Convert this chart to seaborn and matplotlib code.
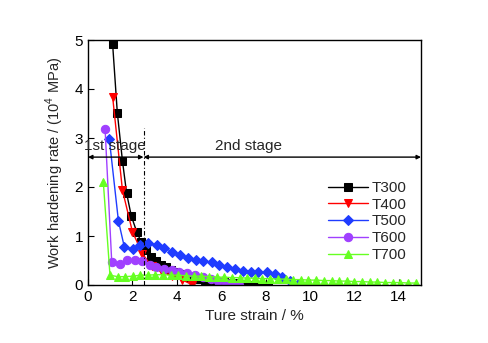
import matplotlib
matplotlib.use("Agg")
import matplotlib.pyplot as plt
import seaborn as sns
import pandas as pd

# ---- data ----
t300_x = [1.11, 1.32, 1.55, 1.74, 1.95, 2.19, 2.40, 2.61, 2.84, 3.06, 3.28, 3.50, 3.72, 3.94, 4.16,
          4.38, 4.60, 4.82, 5.04, 5.26, 5.48, 5.70, 5.92, 6.14, 6.36, 6.58, 6.80, 7.02, 7.24, 7.46,
          7.68, 7.90, 8.10]
t300_y = [4.91, 3.52, 2.54, 1.87, 1.41, 1.09, 0.87, 0.71, 0.58, 0.48, 0.41, 0.36, 0.31, 0.27, 0.23,
          0.20, 0.17, 0.15, 0.13, 0.11, 0.09, 0.08, 0.07, 0.06, 0.05, 0.04, 0.03, 0.02, 0.01, 0.01,
          0.0, 0.0, 0.0]

t400_x = [1.11, 1.55, 2.00, 2.45, 2.87, 3.32, 3.77, 4.22, 4.67]
t400_y = [3.84, 1.94, 1.09, 0.64, 0.38, 0.27, 0.19, 0.11, 0.01]

t500_x = [0.96, 1.37, 1.64, 2.01, 2.34, 2.72, 3.09, 3.42, 3.80, 4.14, 4.49, 4.86, 5.19, 5.57, 5.91,
          6.25, 6.62, 6.97, 7.34, 7.67, 8.05, 8.42, 8.76, 9.10, 9.47]
t500_y = [2.98, 1.31, 0.77, 0.73, 0.81, 0.86, 0.82, 0.76, 0.68, 0.61, 0.56, 0.52, 0.50, 0.46, 0.41,
          0.36, 0.32, 0.29, 0.27, 0.26, 0.26, 0.22, 0.17, 0.09, 0.02]

t600_x = [0.77, 1.07, 1.42, 1.76, 2.10, 2.45, 2.78, 3.08, 3.42, 3.77, 4.12, 4.47, 4.82, 5.17, 5.52,
          5.87, 6.22, 6.55, 6.80]
t600_y = [3.18, 0.46, 0.43, 0.51, 0.51, 0.50, 0.40, 0.36, 0.33, 0.30, 0.27, 0.24, 0.20, 0.17, 0.12,
          0.09, 0.05, 0.02, 0.0]

t700_x = [0.69, 0.99, 1.34, 1.67, 2.01, 2.34, 2.69, 3.03, 3.38, 3.72, 4.07, 4.41, 4.76, 5.10, 5.45,
          5.79, 6.14, 6.48, 6.83, 7.17, 7.52, 7.86, 8.21, 8.55, 8.90, 9.24, 9.59, 9.93, 10.28, 10.62,
          10.97, 11.31, 11.66, 12.00, 12.35, 12.69, 13.04, 13.38, 13.73, 14.07, 14.42, 14.76]
t700_y = [2.10, 0.20, 0.17, 0.17, 0.18, 0.20, 0.20, 0.21, 0.21, 0.20, 0.20, 0.19, 0.18, 0.18, 0.17,
          0.16, 0.16, 0.15, 0.15, 0.14, 0.14, 0.13, 0.13, 0.12, 0.12, 0.11, 0.11, 0.10, 0.10, 0.09,
          0.09, 0.08, 0.08, 0.07, 0.07, 0.06, 0.06, 0.05, 0.05, 0.05, 0.04, 0.04]

series_names = ["T300", "T400", "T500", "T600", "T700"]
x_ticks = [0, 2, 4, 6, 8, 10, 12, 14]
y_ticks = [0, 1, 2, 3, 4, 5]
stage_boundary = 2.5
stage_labels = ["1st stage", "2nd stage"]

# ---- style ----
sns.set_theme(style="ticks")
plt.rcParams["font.family"] = ["Liberation Sans", "DejaVu Sans"]
plt.rcParams["mathtext.fontset"] = "custom"
plt.rcParams["mathtext.rm"] = "Liberation Sans"

colors = ["#000000", "#ff0000", "#1f3cff", "#a040ff", "#66ff22"]
markers = ["s", "v", "D", "o", "^"]
msizes = [5.5, 6, 5, 6, 6]

fig = plt.figure(figsize=(4.89, 3.43), dpi=100)
ax = fig.add_axes([88 / 489, 58 / 343, 333 / 489, 245 / 343])

data = [(t300_x, t300_y), (t400_x, t400_y), (t500_x, t500_y), (t600_x, t600_y), (t700_x, t700_y)]
for name, (xs, ys), c, m, ms in zip(series_names, data, colors, markers, msizes):
    df = pd.DataFrame({"x": xs, "y": ys})
    sns.lineplot(data=df, x="x", y="y", ax=ax, color=c, marker=m, markersize=ms,
                 markeredgecolor=c, linewidth=1.0, label=name, sort=False, errorbar=None)

ax.set_xlim(0, 15)
ax.set_ylim(0, 5)
ax.set_xticks(x_ticks)
ax.set_yticks(y_ticks)
ax.tick_params(direction="in", length=4, width=0.8, labelsize=11, colors="black")
for s in ax.spines.values():
    s.set_visible(True)
    s.set_linewidth(1.0)
    s.set_color("black")

ax.set_xlabel("Ture strain / %", fontsize=11)
ax.set_ylabel("Work hardening rate / (10$^4$ MPa)", fontsize=10.5, labelpad=6)

# stage markers
ax.plot([stage_boundary, stage_boundary], [0, 3.2], color="black", lw=0.8, ls=(0, (4, 2, 1, 2)))
arrow_y = 2.61
ax.annotate("", xy=(0, arrow_y), xytext=(stage_boundary, arrow_y),
            arrowprops=dict(arrowstyle="<|-|>", color="black", lw=1.0, mutation_scale=6,
                            shrinkA=0, shrinkB=0))
ax.annotate("", xy=(stage_boundary, arrow_y), xytext=(15, arrow_y),
            arrowprops=dict(arrowstyle="<|-|>", color="black", lw=1.0, mutation_scale=6,
                            shrinkA=0, shrinkB=0))
ax.text(1.2, 2.70, stage_labels[0], ha="center", va="bottom", fontsize=11)
ax.text(7.25, 2.70, stage_labels[1], ha="center", va="bottom", fontsize=11)

leg = ax.legend(loc="upper right", bbox_to_anchor=(0.975, 0.45), frameon=False, fontsize=11,
                handlelength=2.6, labelspacing=0.18, handletextpad=0.25, borderaxespad=0.0)

fig.savefig("out.png", dpi=100)
